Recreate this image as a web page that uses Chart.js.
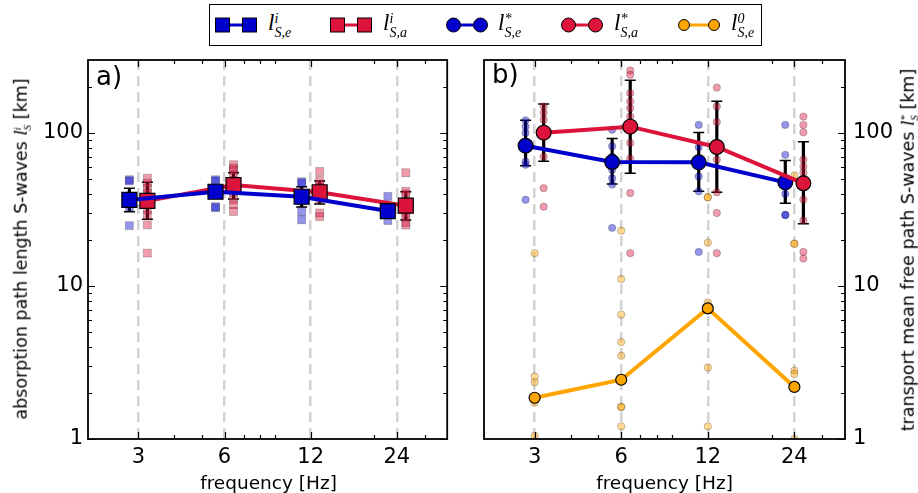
<!DOCTYPE html>
<html>
<head>
<meta charset="utf-8">
<script src="https://cdn.jsdelivr.net/npm/chart.js@4.4.1/dist/chart.umd.min.js"></script>
<style>
  body { margin: 0; background: #fff; }
  #fig { position: relative; width: 918px; height: 493px; overflow: hidden; font-family: "DejaVu Sans", sans-serif; color: #000; }
  #fig canvas { position: absolute; top: 0; }
  .lab { position: absolute; white-space: nowrap; }
  .rot { transform: translate(-50%, -50%) rotate(-90deg); }
  .m { font-family: "Liberation Serif", serif; font-style: italic; }
  .ss { display: inline-block; vertical-align: middle; line-height: 0.95; font-family: "Liberation Serif", serif; font-style: italic; }
  .ss span { display: block; }
  #leg { position: absolute; left: 209px; top: 4px; width: 551px; height: 40px; border: 1.5px solid #000; background: #fff; }
</style>
</head>
<body>
<div id="fig">
  <canvas id="chartA" width="459" height="493" style="left:0"></canvas>
  <canvas id="chartB" width="459" height="493" style="left:459px"></canvas>
  <div id="leg"></div>
</div>
<script>
// frequencies and axis ticks
const freqs = [3, 6, 12, 24];
const yTickVals = [1, 10, 100];
const xMinorTicks = [4, 5, 7, 8, 9, 20, 30];
const yMinorTicks = [2, 3, 4, 5, 6, 7, 8, 9, 20, 30, 40, 50, 60, 70, 80, 90, 200];

// a) absorption path length, l_S,e^i (blue) and l_S,a^i (red)
const absMeanE = [36.5, 41.3, 38.3, 30.9];
const absLoE = [30.6, 38.0, 32.8, 29.0];
const absHiE = [43.5, 45.0, 44.6, 33.0];
const absPtsE = [
  [49.5, 48.5, 24.8, 37, 33],
  [49.5, 48.5, 33, 32.5, 42],
  [48, 47, 30.7, 27.1, 40, 36],
  [38.5, 26.8, 30, 31.5]
];
const absMeanA = [36.0, 45.7, 41.0, 33.5];
const absLoA = [27.3, 37.0, 34.4, 27.0];
const absHiA = [47.7, 55.0, 48.5, 41.3];
const absPtsA = [
  [50.7, 47, 43.7, 40.5, 38.5, 31.5, 29, 25.1, 16.4],
  [62, 59, 57, 53.4, 49, 41, 36.6, 34, 30.7],
  [56, 49, 46, 44, 37, 30, 28.4],
  [55, 41.6, 40, 36, 30, 28.4, 26, 25]
];

// b) transport mean free path, l_S,e^* (blue), l_S,a^* (red), l_S,e^0 (orange)
const trMeanE = [82.6, 64.6, 64.3, 47.6];
const trLoE = [61, 46.4, 41.6, 34.7];
const trHiE = [121, 92, 100.9, 66];
const trPtsE = [
  [121, 110, 100, 88, 65, 62, 36.6],
  [105, 82, 70, 57.6, 50.7, 46, 24],
  [113, 80.8, 65, 52, 41.6, 16.7],
  [113, 72, 50, 40, 29.2, 29]
];
const trMeanA = [100.5, 110, 81, 46.9];
const trLoA = [65.3, 54.5, 41, 25.5];
const trHiA = [155, 221, 161, 87.7];
const trPtsA = [
  [149, 135, 122, 105, 95, 70, 43.6, 33],
  [256, 240, 182, 161, 145, 128, 86, 68, 40.5, 16.4],
  [198, 149, 118, 79.6, 67, 41, 30, 16.4],
  [128, 113, 101, 67, 60.5, 55, 36.7, 26.8, 16.7, 15.1]
];
const tr0Mean = [1.86, 2.44, 7.14, 2.19];
const tr0Pts = [
  [16.4, 2.56, 2.35, 1.73, 1.8, 1.05],
  [23, 11.1, 6.5, 4.3, 3.5, 1.62, 1.62, 1.21],
  [38, 38, 19.2, 7.8, 2.93, 1.21],
  [52.8, 18.9, 18.9, 2.8, 2.66, 1.0]
];

const legendSup = ['i', 'i', '*', '*', '0'];
const legendSub = ['S,e', 'S,a', 'S,e', 'S,a', 'S,e'];

const BLUE = '#0000cd', RED = '#dc143c', ORANGE = '#ffa500';
const SHIFT_E = 0.93, SHIFT_A = 1.075;   // small x offset between the two series

function meanSet(vals, shift, color, style, r, order) {
  return {
    data: vals.map((v, i) => ({ x: freqs[i] * shift, y: v })),
    showLine: true, borderColor: color, borderWidth: 4,
    pointStyle: style, pointRadius: r, pointBackgroundColor: color,
    pointBorderColor: '#000', pointBorderWidth: 1.2, order: order
  };
}
function ptsSet(lists, shift, rgb, style, r) {
  return {
    data: lists.flatMap((vals, i) => vals.map(v => ({ x: freqs[i] * shift, y: v }))),
    showLine: false, pointStyle: style, pointRadius: r,
    pointBackgroundColor: 'rgba(' + rgb + ',0.42)',
    pointBorderColor: 'rgba(0,0,0,0.22)', pointBorderWidth: 1, order: 5, clip: 0
  };
}

function errPlugin(sets) {
  return {
    id: 'errbars',
    beforeDatasetsDraw(chart) {
      const { ctx, scales: { x, y } } = chart;
      ctx.save();
      ctx.strokeStyle = '#000';
      sets.forEach(s => {
        s.lo.forEach((lo, i) => {
          const px = x.getPixelForValue(freqs[i] * s.shift);
          const p1 = y.getPixelForValue(lo), p2 = y.getPixelForValue(s.hi[i]);
          ctx.lineWidth = 3.2;
          ctx.beginPath(); ctx.moveTo(px, p1); ctx.lineTo(px, p2); ctx.stroke();
          ctx.lineWidth = 1.5;
          ctx.beginPath();
          ctx.moveTo(px - 5.5, p1); ctx.lineTo(px + 5.5, p1);
          ctx.moveTo(px - 5.5, p2); ctx.lineTo(px + 5.5, p2);
          ctx.stroke();
        });
      });
      ctx.restore();
    }
  };
}

function framePlugin(leftTicks, rightTicks) {
  return {
    id: 'frame',
    afterDraw(chart) {
      const { ctx, chartArea: a, scales: { x, y } } = chart;
      const seg = (x1, y1, x2, y2) => { ctx.moveTo(x1, y1); ctx.lineTo(x2, y2); };
      ctx.save();
      ctx.strokeStyle = '#000';
      ctx.lineWidth = 1.2;
      ctx.beginPath();
      [[freqs, 7], [xMinorTicks, 4]].forEach(([vals, len]) => vals.forEach(v => {
        const px = Math.round(x.getPixelForValue(v)) + 0.5;
        seg(px, a.bottom, px, a.bottom - len);
        seg(px, a.top, px, a.top + len);
      }));
      [[yTickVals, 7], [yMinorTicks, 4]].forEach(([vals, len]) => vals.forEach(v => {
        const py = Math.round(y.getPixelForValue(v)) + 0.5;
        if (leftTicks) seg(a.left, py, a.left + len, py);
        if (rightTicks) seg(a.right, py, a.right - len, py);
      }));
      ctx.stroke();
      ctx.lineWidth = 1.8;
      ctx.strokeRect(a.left, a.top, a.right - a.left, a.bottom - a.top);
      ctx.restore();
    }
  };
}

function axes(yPos, yWidth) {
  const font = { family: 'DejaVu Sans', size: 21 };
  return {
    x: {
      type: 'logarithmic', min: 2, max: 36,
      afterBuildTicks: s => { s.ticks = freqs.map(v => ({ value: v })); },
      afterFit: s => { s.height = 54; },
      ticks: { callback: v => String(v), color: '#000', font: font, padding: 6, autoSkip: false, maxRotation: 0 },
      grid: { color: '#d2d2d2', lineWidth: 2.5, drawTicks: false },
      border: { display: false, dash: [10, 6] }
    },
    y: {
      type: 'logarithmic', min: 1, max: 300, position: yPos,
      afterBuildTicks: s => { s.ticks = yTickVals.map(v => ({ value: v })); },
      afterFit: s => { s.width = yWidth; },
      ticks: { callback: v => String(v), color: '#000', font: font, padding: yPos === 'left' ? 5 : 8 },
      grid: { display: false, drawTicks: false },
      border: { display: false }
    }
  };
}

const common = {
  responsive: false, animation: false, events: [], devicePixelRatio: 1,
  plugins: { legend: { display: false }, tooltip: { enabled: false } }
};

new Chart(document.getElementById('chartA'), {
  type: 'scatter',
  data: {
    datasets: [
      meanSet(absMeanE, SHIFT_E, BLUE, 'rect', 10.6, 0),
      meanSet(absMeanA, SHIFT_A, RED, 'rect', 10.6, 1),
      ptsSet(absPtsE, SHIFT_E, '0,0,205', 'rect', 5.6),
      ptsSet(absPtsA, SHIFT_A, '220,20,60', 'rect', 5.6)
    ]
  },
  options: Object.assign({}, common, {
    layout: { padding: { left: 0, right: 10, top: 60, bottom: 0 } },
    scales: axes('left', 88)
  }),
  plugins: [
    errPlugin([{ lo: absLoE, hi: absHiE, shift: SHIFT_E }, { lo: absLoA, hi: absHiA, shift: SHIFT_A }]),
    framePlugin(true, true)
  ]
});

new Chart(document.getElementById('chartB'), {
  type: 'scatter',
  data: {
    datasets: [
      meanSet(trMeanE, SHIFT_E, BLUE, 'circle', 7.4, 1),
      meanSet(trMeanA, SHIFT_A, RED, 'circle', 7.4, 0),
      meanSet(tr0Mean, 1, ORANGE, 'circle', 5.5, 2),
      ptsSet(trPtsE, SHIFT_E, '0,0,205', 'circle', 3.7),
      ptsSet(trPtsA, SHIFT_A, '220,20,60', 'circle', 3.7),
      ptsSet(tr0Pts, 1, '255,165,0', 'circle', 3.7)
    ]
  },
  options: Object.assign({}, common, {
    layout: { padding: { left: 25, right: 0, top: 60, bottom: 0 } },
    scales: axes('right', 73)
  }),
  plugins: [
    errPlugin([{ lo: trLoE, hi: trHiE, shift: SHIFT_E }, { lo: trLoA, hi: trHiA, shift: SHIFT_A }]),
    framePlugin(false, true)
  ]
});

// text: panel letters, axis titles, legend
const fig = document.getElementById('fig');
function addLabel(html, css, cls) {
  const d = document.createElement('div');
  d.className = 'lab' + (cls ? ' ' + cls : '');
  d.innerHTML = html;
  Object.assign(d.style, css);
  fig.appendChild(d);
  return d;
}
function mathL(sup, sub, big, small) {
  return '<span class="m" style="font-size:' + big + 'px">l</span>' +
    '<span class="ss" style="font-size:' + small + 'px"><span>' + sup + '</span><span>' + sub + '</span></span>';
}

addLabel('a)', { left: '96px', top: '61px', fontSize: '26px' });
addLabel('b)', { left: '492px', top: '59px', fontSize: '26px' });
addLabel('frequency [Hz]', { left: '268.5px', top: '482px', fontSize: '18.5px', transform: 'translate(-50%,-50%)' });
addLabel('frequency [Hz]', { left: '664.5px', top: '482px', fontSize: '18.5px', transform: 'translate(-50%,-50%)' });
addLabel('absorption path length S-waves ' + mathL('i', 'S', 19, 11) + ' [km]',
  { left: '21px', top: '249px', fontSize: '17.5px' }, 'rot');
addLabel('transport mean free path S-waves ' + mathL('*', 'S', 19, 11) + ' [km]',
  { left: '908px', top: '250px', fontSize: '17.5px' }, 'rot');

const legMarkerX = [215, 330, 446, 561, 678];
const legTextX = [268, 383, 498, 614, 731];
const legItems = [
  { color: BLUE, shape: 'rect', size: 14 },
  { color: RED, shape: 'rect', size: 14 },
  { color: BLUE, shape: 'circle', size: 14 },
  { color: RED, shape: 'circle', size: 14 },
  { color: ORANGE, shape: 'circle', size: 11 }
];
legItems.forEach((it, i) => {
  const s = it.size, w = 42, cy = 10;
  const c1 = s / 2 + 0.5, c2 = w - s / 2 - 0.5;
  const mk = cx => it.shape === 'rect'
    ? '<rect x="' + (cx - s / 2) + '" y="' + (cy - s / 2) + '" width="' + s + '" height="' + s + '" fill="' + it.color + '" stroke="#000" stroke-width="1"/>'
    : '<circle cx="' + cx + '" cy="' + cy + '" r="' + (s / 2) + '" fill="' + it.color + '" stroke="#000" stroke-width="1"/>';
  const svg = '<svg width="' + w + '" height="20" style="display:block">' +
    '<line x1="' + c1 + '" y1="' + cy + '" x2="' + c2 + '" y2="' + cy + '" stroke="' + it.color + '" stroke-width="3"/>' +
    mk(c1) + mk(c2) + '</svg>';
  addLabel(svg, { left: legMarkerX[i] + 'px', top: '15px' });
  addLabel(mathL(legendSup[i], legendSub[i], 23, 14), { left: legTextX[i] + 'px', top: '10px' });
});
</script>
</body>
</html>
